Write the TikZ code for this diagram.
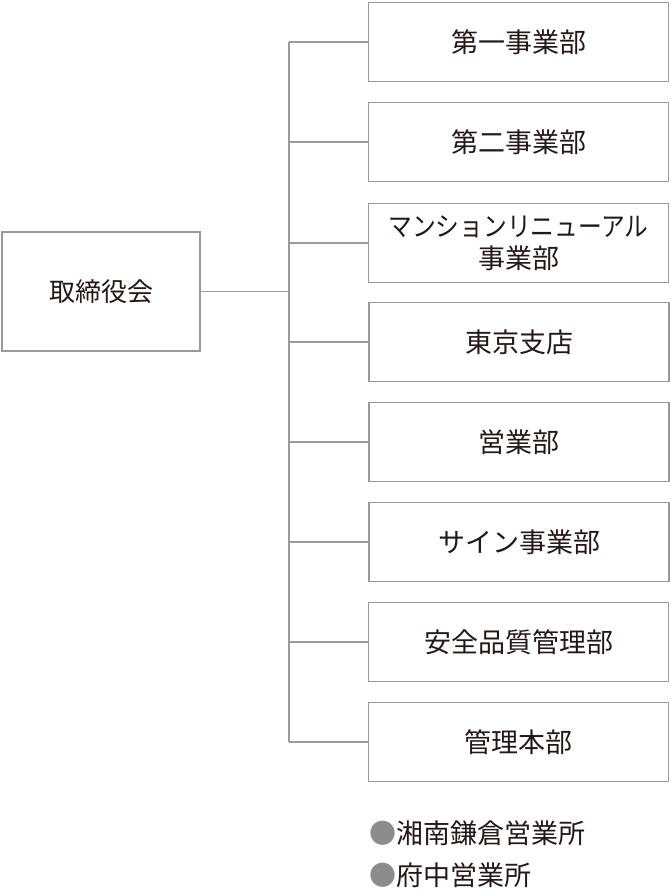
\documentclass[tikz,border=0pt]{standalone}
\usepackage{fontspec}
\setmainfont{Noto Sans CJK JP}
\definecolor{linegray}{HTML}{9A9A9A}
\definecolor{txt}{HTML}{231815}
\definecolor{dotgray}{HTML}{8C8C8C}
\begin{document}
\begin{tikzpicture}[x=1pt,y=-1pt,
  box/.style={draw=linegray,line width=1.6pt,minimum width=300pt,minimum height=79pt,inner sep=0pt,text=txt,font=\fontsize{27}{32}\selectfont,align=center},
  rootbox/.style={box,minimum width=198pt,minimum height=119pt,font=\fontsize{26}{30}\selectfont},
  conn/.style={draw=linegray,line width=1.6pt},
  bul/.style={anchor=west,inner sep=0pt,text=txt,font=\fontsize{27}{30}\selectfont}]
\useasboundingbox (0,0) rectangle (671,893);
\node[rootbox] (root) at (101,291.5) {取締役会};
\node[box] (b1) at (518.5,42) {第一事業部};
\node[box] (b2) at (518.5,142) {第二事業部};
\node[box] (b3) at (518.5,243) {\scalebox{0.88}[1]{マンションリニューアル}\\事業部};
\node[box] (b4) at (519,342) {東京支店};
\node[box] (b5) at (519,442) {営業部};
\node[box] (b6) at (519,542) {サイン事業部};
\node[box] (b7) at (518.5,642) {安全品質管理部};
\node[box] (b8) at (518.5,742) {管理本部};
\coordinate (top) at (289,42);
\coordinate (bot) at (289,742);
\coordinate (mid) at (289,291.5);
\draw[conn] (root.east) -- (mid);
\draw[conn] (top) -- (bot);
\foreach \n in {b1,b2,b3,b4,b5,b6,b7,b8}{
  \draw[conn] (\n.west) -- (\n.west -| top);
}
\node[bul] (s1) at (369,833) {\textcolor{dotgray}{●}湘南鎌倉営業所};
\node[bul] (s2) at (369,875) {\textcolor{dotgray}{●}府中営業所};
\end{tikzpicture}
\end{document}
